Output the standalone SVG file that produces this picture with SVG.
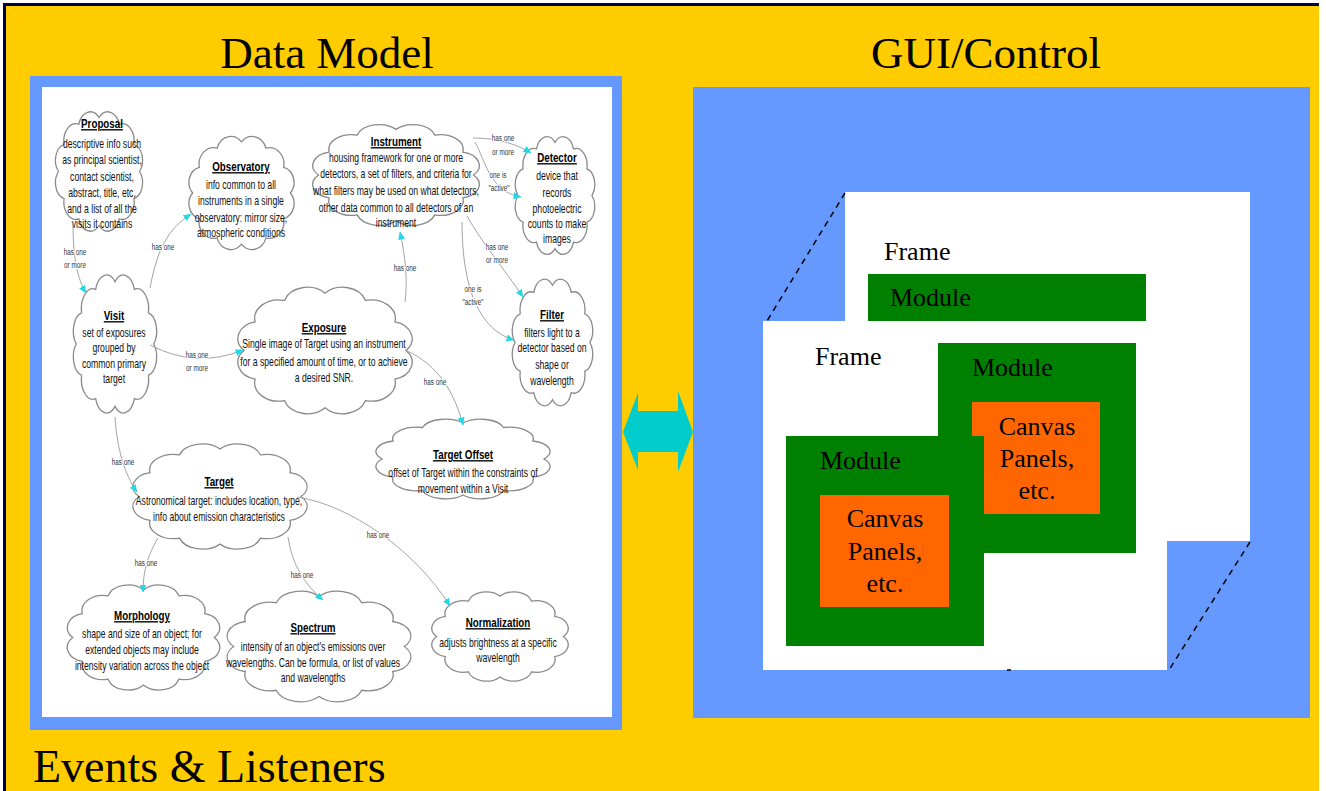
<svg xmlns="http://www.w3.org/2000/svg" xmlns:xlink="http://www.w3.org/1999/xlink" width="1326" height="791" viewBox="0 0 1326 791">
  <style>
    .title { font-family: "Liberation Serif", "Times New Roman", serif; font-size: 45px; fill: #000; }
    .serif { font-family: "Liberation Serif", "Times New Roman", serif; font-size: 26px; fill: #000; }
    .mid { text-anchor: middle; }
    .cloud { fill: #fff; stroke: #8a8a8a; stroke-width: 1.3; vector-effect: non-scaling-stroke; }
    .h { font-family: "Liberation Sans", Arial, sans-serif; font-size: 13.6px; font-weight: bold; text-anchor: middle; text-decoration: underline; fill: #000; }
    .t { font-family: "Liberation Sans", Arial, sans-serif; font-size: 12px; text-anchor: middle; fill: #111; }
    .lb { font-family: "Liberation Sans", Arial, sans-serif; font-size: 8.5px; text-anchor: middle; fill: #333; stroke: #fff; stroke-width: 2.2px; paint-order: stroke; }
    .link { fill: none; stroke: #9a9a9a; stroke-width: 0.9; marker-end: url(#ah); }
    .dash { fill: none; stroke: #000; stroke-width: 1.5; stroke-dasharray: 6 5; }
  </style>
  <defs>
    <!-- generic cloud outline in a 100x100 box -->
    <path id="cloud" class="cloud" d="M94,50 A12,12 0 0 1 88,70 A13,13 0 0 1 72,85 A13,13 0 0 1 50,90 A13,13 0 0 1 28,85 A13,13 0 0 1 12,70 A12,12 0 0 1 6,50 A12,12 0 0 1 12,30 A13,13 0 0 1 28,15 A13,13 0 0 1 50,10 A13,13 0 0 1 72,15 A13,13 0 0 1 88,30 A12,12 0 0 1 94,50 Z"/>
    <marker id="ah" viewBox="0 0 8 7" refX="7.5" refY="3.5" markerWidth="8" markerHeight="7" markerUnits="userSpaceOnUse" orient="auto">
      <path d="M0,0 L8,3.5 L0,7 z" fill="#1fd8e8"/>
    </marker>
  </defs>

  <!-- page background and frame edge -->
  <rect x="0" y="0" width="1326" height="791" fill="#fff"/>
  <rect x="5" y="5" width="1314" height="786" fill="#ffcc00"/>
  <rect x="3" y="3" width="1316" height="3" fill="#000044"/>
  <rect x="3" y="3" width="3" height="788" fill="#000044"/>

  <!-- headings -->
  <text class="title mid" x="327" y="68">Data Model</text>
  <text class="title mid" x="986" y="68">GUI/Control</text>
  <text class="title" x="33" y="782" style="font-size:46px">Events &amp; Listeners</text>

  <!-- data model panel -->
  <rect x="30" y="76" width="592" height="654" fill="#6699ff"/>
  <rect x="42" y="87" width="570" height="630" fill="#fff"/>

  <g id="proposal">
    <use xlink:href="#cloud" href="#cloud" transform="translate(53 104) scale(0.92 1.35)"/>
    <g transform="translate(102 0) scale(0.72 1)">
      <text class="h" y="128">Proposal</text>
      <text class="t" y="148">descriptive info such</text>
      <text class="t" y="164">as principal scientist,</text>
      <text class="t" y="181">contact scientist,</text>
      <text class="t" y="197">abstract, title, etc,</text>
      <text class="t" y="213">and a list of all the</text>
      <text class="t" y="228">visits it contains</text>
    </g>
  </g>

  <g id="observatory">
    <use xlink:href="#cloud" href="#cloud" transform="translate(186 129) scale(1.11 1.28)"/>
    <g transform="translate(241 0) scale(0.72 1)">
      <text class="h" y="171">Observatory</text>
      <text class="t" y="189">info common to all</text>
      <text class="t" y="205">instruments in a single</text>
      <text class="t" y="222">observatory: mirror size,</text>
      <text class="t" y="237">atmospheric conditions</text>
    </g>
  </g>

  <g id="instrument">
    <use xlink:href="#cloud" href="#cloud" transform="translate(308 118) scale(1.76 1.14)"/>
    <g transform="translate(396 0) scale(0.72 1)">
      <text class="h" y="146">Instrument</text>
      <text class="t" y="162">housing framework for   one or more</text>
      <text class="t" y="178">detectors, a set of filters, and criteria for</text>
      <text class="t" y="195">what filters may be used on what detectors,</text>
      <text class="t" y="212">other data common to all detectors of an</text>
      <text class="t" y="227">instrument</text>
    </g>
  </g>

  <g id="detector">
    <use xlink:href="#cloud" href="#cloud" transform="translate(513 129) scale(0.84 1.33)"/>
    <g transform="translate(557 0) scale(0.72 1)">
      <text class="h" y="162">Detector</text>
      <text class="t" y="180">device that</text>
      <text class="t" y="197">records</text>
      <text class="t" y="213">photoelectric</text>
      <text class="t" y="228">counts to make</text>
      <text class="t" y="243">images</text>
    </g>
  </g>

  <g id="visit">
    <use xlink:href="#cloud" href="#cloud" transform="translate(71 266) scale(0.88 1.56)"/>
    <g transform="translate(114 0) scale(0.72 1)">
      <text class="h" y="320">Visit</text>
      <text class="t" y="337">set of exposures</text>
      <text class="t" y="352">grouped by</text>
      <text class="t" y="368">common primary</text>
      <text class="t" y="383">target</text>
    </g>
  </g>

  <g id="exposure">
    <use xlink:href="#cloud" href="#cloud" transform="translate(233 279) scale(1.84 1.43)"/>
    <g transform="translate(324 0) scale(0.72 1)">
      <text class="h" y="332">Exposure</text>
      <text class="t" y="348">Single image of Target using an instrument</text>
      <text class="t" y="366">for a specified amount of time, or to achieve</text>
      <text class="t" y="382">a desired SNR.</text>
    </g>
  </g>

  <g id="filter">
    <use xlink:href="#cloud" href="#cloud" transform="translate(510 271) scale(0.85 1.43)"/>
    <g transform="translate(552 0) scale(0.72 1)">
      <text class="h" y="319">Filter</text>
      <text class="t" y="337">filters light to a</text>
      <text class="t" y="352">detector based on</text>
      <text class="t" y="369">shape or</text>
      <text class="t" y="385">wavelength</text>
    </g>
  </g>

  <g id="target-offset">
    <use xlink:href="#cloud" href="#cloud" transform="translate(371 414) scale(1.84 0.9)"/>
    <g transform="translate(463 0) scale(0.72 1)">
      <text class="h" y="459">Target Offset</text>
      <text class="t" y="477">offset of Target within the constraints of</text>
      <text class="t" y="493">movement within a Visit</text>
    </g>
  </g>

  <g id="target">
    <use xlink:href="#cloud" href="#cloud" transform="translate(128 437) scale(1.84 1.19)"/>
    <g transform="translate(219 0) scale(0.72 1)">
      <text class="h" y="486">Target</text>
      <text class="t" y="505">Astronomical target: includes location, type,</text>
      <text class="t" y="521">info about emission characteristics</text>
    </g>
  </g>

  <g id="morphology">
    <use xlink:href="#cloud" href="#cloud" transform="translate(63 578) scale(1.61 1.19)"/>
    <g transform="translate(142 0) scale(0.72 1)">
      <text class="h" y="620">Morphology</text>
      <text class="t" y="638">shape and size of an object; for</text>
      <text class="t" y="654">extended objects may include</text>
      <text class="t" y="670">intensity variation across the object</text>
    </g>
  </g>

  <g id="spectrum">
    <use xlink:href="#cloud" href="#cloud" transform="translate(222 584) scale(1.94 1.25)"/>
    <g transform="translate(313 0) scale(0.72 1)">
      <text class="h" y="632">Spectrum</text>
      <text class="t" y="651">intensity of an object's emissions over</text>
      <text class="t" y="667">wavelengths.  Can be formula, or list of values</text>
      <text class="t" y="682">and wavelengths</text>
    </g>
  </g>

  <g id="normalization">
    <use xlink:href="#cloud" href="#cloud" transform="translate(428 586) scale(1.44 1.01)"/>
    <g transform="translate(498 0) scale(0.72 1)">
      <text class="h" y="627">Normalization</text>
      <text class="t" y="647">adjusts brightness at a specific</text>
      <text class="t" y="662">wavelength</text>
    </g>
  </g>

  <!-- relationships between the data classes -->
  <g id="connectors">
    <path class="link" d="M73,222 C73,250 75,275 86,293"/>
    <path class="link" d="M150,288 C158,245 170,228 191,214"/>
    <path class="link" d="M150,345 Q196,369 243,350"/>
    <path class="link" d="M405,302 C408,280 405,255 400,232"/>
    <path class="link" d="M473,138 C495,138 515,143 531,153"/>
    <path class="link" d="M475,142 C485,160 490,192 521,197"/>
    <path class="link" d="M467,216 C480,240 505,270 523,297"/>
    <path class="link" d="M462,222 C462,290 480,330 514,340"/>
    <path class="link" d="M405,350 C440,365 455,395 463,425"/>
    <path class="link" d="M115,417 C117,450 125,475 137,492"/>
    <path class="link" d="M158,538 C148,555 143,570 143,592"/>
    <path class="link" d="M288,537 C292,565 305,585 323,600"/>
    <path class="link" d="M297,497 C350,505 415,550 450,606"/>

    <text class="lb" transform="translate(75 255) scale(0.75 1)">has one</text>
    <text class="lb" transform="translate(75 268) scale(0.75 1)">or more</text>
    <text class="lb" transform="translate(163 250) scale(0.75 1)">has one</text>
    <text class="lb" transform="translate(197 358) scale(0.75 1)">has one</text>
    <text class="lb" transform="translate(197 371) scale(0.75 1)">or more</text>
    <text class="lb" transform="translate(405 271) scale(0.75 1)">has one</text>
    <text class="lb" transform="translate(503 141) scale(0.75 1)">has one</text>
    <text class="lb" transform="translate(503 155) scale(0.75 1)">or more</text>
    <text class="lb" transform="translate(498 178) scale(0.75 1)">one is</text>
    <text class="lb" transform="translate(499 191) scale(0.75 1)">"active"</text>
    <text class="lb" transform="translate(497 250) scale(0.75 1)">has one</text>
    <text class="lb" transform="translate(497 263) scale(0.75 1)">or more</text>
    <text class="lb" transform="translate(473 292) scale(0.75 1)">one is</text>
    <text class="lb" transform="translate(473 305) scale(0.75 1)">"active"</text>
    <text class="lb" transform="translate(435 385) scale(0.75 1)">has one</text>
    <text class="lb" transform="translate(123 465) scale(0.75 1)">has one</text>
    <text class="lb" transform="translate(146 566) scale(0.75 1)">has one</text>
    <text class="lb" transform="translate(302 578) scale(0.75 1)">has one</text>
    <text class="lb" transform="translate(378 538) scale(0.75 1)">has one</text>
  </g>

  <!-- two-way link between model and GUI -->
  <polygon id="events-arrow" points="623,432 638,393 638,411 678,411 678,391 693,432 678,472 678,452 638,452 638,470" fill="#00cccc"/>

  <!-- GUI / control panel -->
  <rect x="693" y="87" width="617" height="631" fill="#6699ff"/>

  <g id="frame-back">
    <rect x="845" y="192" width="405" height="349" fill="#fff"/>
    <text class="serif" x="884" y="260">Frame</text>
  </g>
  <g id="module-back">
    <rect x="868" y="274" width="278" height="47" fill="#008000"/>
    <text class="serif" x="890" y="306">Module</text>
  </g>

  <g id="frame-front">
    <rect x="763" y="321" width="404" height="349" fill="#fff"/>
    <text class="serif" x="815" y="365">Frame</text>
  </g>

  <g id="module-right">
    <rect x="938" y="343" width="198" height="210" fill="#008000"/>
    <text class="serif" x="972" y="376">Module</text>
  </g>
  <g id="canvas-right">
    <rect x="972" y="402" width="128" height="112" fill="#ff6600"/>
    <text class="serif mid" x="1037" y="435">Canvas</text>
    <text class="serif mid" x="1037" y="467">Panels,</text>
    <text class="serif mid" x="1037" y="499">etc.</text>
  </g>

  <g id="module-left">
    <rect x="786" y="436" width="198" height="210" fill="#008000"/>
    <text class="serif" x="820" y="469">Module</text>
  </g>
  <g id="canvas-left">
    <rect x="820" y="495" width="129" height="112" fill="#ff6600"/>
    <text class="serif mid" x="885" y="527">Canvas</text>
    <text class="serif mid" x="885" y="560">Panels,</text>
    <text class="serif mid" x="885" y="592">etc.</text>
  </g>

  <!-- depth lines joining the two frames -->
  <g id="frame-depth">
    <line class="dash" x1="845" y1="193" x2="767" y2="321"/>
    <line class="dash" x1="1250" y1="542" x2="1169" y2="670"/>
    <line x1="1007" y1="670" x2="1011" y2="670" stroke="#000" stroke-width="1.5"/>
  </g>
</svg>
